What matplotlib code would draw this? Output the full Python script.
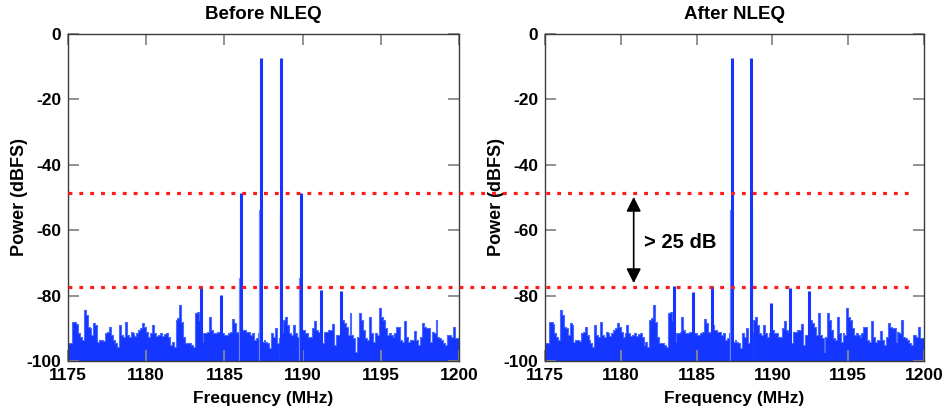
import matplotlib
matplotlib.use("Agg")
import matplotlib.pyplot as plt
from matplotlib.lines import Line2D
from matplotlib import transforms
import numpy as np

plt.rcParams['font.family'] = ['Liberation Sans', 'DejaVu Sans']
plt.rcParams['font.weight'] = 'bold'
plt.rcParams['axes.unicode_minus'] = False

# noise floor, one value per 0.125 MHz bin starting at 1175 MHz
floor_start = 1175.0
floor_step = 0.125
noise_floor = [
    -94.6, -94.6, -88.0, -88.1, -88.6, -91.5, -92.6, -93.6, -84.4, -86.0,
    -89.5, -90.0, -92.0, -88.5, -89.0, -94.1, -93.6, -93.6, -93.8, -91.5,
    -91.0, -89.7, -92.0, -93.6, -94.4, -95.6, -89.0, -92.0, -92.6, -88.0,
    -92.0, -92.6, -91.0, -91.5, -92.4, -91.5, -90.5, -90.0, -88.3, -89.5,
    -91.0, -92.6, -91.5, -89.0, -91.5, -92.4, -92.0, -91.5, -92.4, -91.8,
    -91.5, -92.6, -95.1, -94.1, -95.6, -87.5, -87.0, -82.9, -88.0, -92.6,
    -94.6, -94.4, -94.6, -95.1, -95.6, -85.4, -84.9, -87.5, -94.1, -91.5,
    -91.5, -91.0, -86.4, -90.5, -91.5, -91.5, -91.0, -91.0, -91.5, -91.5,
    -92.0, -92.0, -91.5, -91.0, -87.3, -88.5, -91.0, -91.5, -89.0, -90.5,
    -90.5, -91.0, -91.0, -92.0, -91.5, -93.6, -93.0, -91.5, -94.1, -94.1,
    -93.6, -94.1, -94.6, -96.1, -91.5, -92.6, -90.0, -94.6, -93.0, -91.0,
    -87.5, -86.4, -89.0, -91.5, -92.0, -89.0, -91.5, -92.6, -91.5, -90.5,
    -90.5, -91.5, -91.5, -92.6, -92.6, -90.0, -87.7, -90.5, -91.0, -94.6,
    -94.6, -91.0, -91.0, -90.5, -90.5, -88.7, -95.1, -92.0, -92.0, -91.5,
    -87.5, -88.5, -89.5, -92.0, -85.2, -92.0, -93.1, -97.1, -92.6, -85.2,
    -87.5, -90.5, -93.1, -93.6, -86.4, -91.5, -94.1, -91.5, -92.0, -83.9,
    -86.4, -87.5, -90.0, -92.0, -91.5, -92.0, -92.6, -91.5, -89.7, -89.7,
    -93.6, -94.1, -87.7, -92.6, -94.1, -93.6, -93.6, -90.7, -93.6, -95.1,
    -92.6, -88.3, -89.5, -90.0, -90.0, -94.1, -91.0, -91.5, -87.5, -92.6,
    -93.1, -93.6, -94.6, -95.1, -92.0, -92.0, -92.6, -89.7, -93.1, -93.1,
]

# tones and intermodulation products (MHz)
spur_freq = [1183.48, 1184.76, 1186.04, 1187.32, 1188.60, 1189.88, 1191.16, 1192.44]
before_level = [-77.2, -79.8, -48.5, -7.4, -7.4, -48.5, -78.3, -78.7]
after_level = [-77.1, -78.8, -77.1, -7.4, -7.4, -82.4, -77.6, -78.7]

# neighbouring bins of the strong lines
before_shoulder_freq = [1186.00, 1187.27, 1188.65, 1189.84]
before_shoulder_level = [-74.5, -53.8, -53.8, -74.5]
after_shoulder_freq = [1187.27, 1188.65]
after_shoulder_level = [-53.8, -53.8]

titles = ["Before NLEQ", "After NLEQ"]
ref_levels = [-48.5, -77.5]
blue = '#1436ff'

fig = plt.figure(figsize=(9.44, 4.12), dpi=100)
ax1 = fig.add_axes([68 / 944, 51 / 412, 391 / 944, 327 / 412])
ax2 = fig.add_axes([545 / 944, 51 / 412, 379 / 944, 327 / 412])

edges = floor_start + floor_step * np.arange(len(noise_floor) + 1)
floor_vals = np.append(noise_floor, noise_floor[-1])

panels = [
    (ax1, before_level, before_shoulder_freq, before_shoulder_level),
    (ax2, after_level, after_shoulder_freq, after_shoulder_level),
]
for i, (ax, lvl, sh_f, sh_l) in enumerate(panels):
    ax.fill_between(edges, -100, floor_vals, step='post', color=blue, lw=0)
    ax.step(edges, floor_vals, where='post', color='#4a6aff', lw=0.8)
    ax.vlines(sh_f, -100, sh_l, color='#6f88ff', lw=1.6)
    ax.vlines(spur_freq, -100, lvl, color=blue, lw=2.2)

    ax.set_xlim(1175, 1200)
    ax.set_ylim(-100, 0)
    ax.set_xticks(range(1175, 1201, 5))
    ax.set_yticks(range(-100, 1, 20))
    ax.tick_params(direction='in', length=8, width=1.3, color='#8a8a8a',
                   top=True, right=True, labelsize=12.5, pad=5)
    for lab in ax.get_xticklabels() + ax.get_yticklabels():
        lab.set_fontweight('bold')
    for sp in ax.spines.values():
        sp.set_color('#3c3c3c')
        sp.set_linewidth(1.0)
    ax.set_title(titles[i], fontsize=13.5, fontweight='bold', pad=11)
    ax.set_xlabel("Frequency (MHz)", fontsize=12.5, fontweight='bold', labelpad=6)
    ax.set_ylabel("Power (dBFS)", fontsize=13, fontweight='bold', labelpad=-1)

# red dotted reference lines run across both panels
tr = transforms.blended_transform_factory(fig.transFigure, ax1.transData)
for y in ref_levels:
    fig.add_artist(Line2D([68 / 944, 915 / 944], [y, y], transform=tr,
                          color='#ff1a1a', lw=2.3, linestyle=(0, (1.2, 2.2)),
                          clip_on=False))

# > 25 dB annotation
ax2.annotate('', xy=(1180.85, -49.8), xytext=(1180.85, -76.2),
             arrowprops=dict(arrowstyle='<|-|>', color='black', lw=1.2,
                             mutation_scale=22, shrinkA=0, shrinkB=0))
ax2.text(1181.5, -63.8, "> 25 dB", fontsize=14.5, fontweight='bold',
         ha='left', va='center')

fig.savefig("out.png", dpi=100)
